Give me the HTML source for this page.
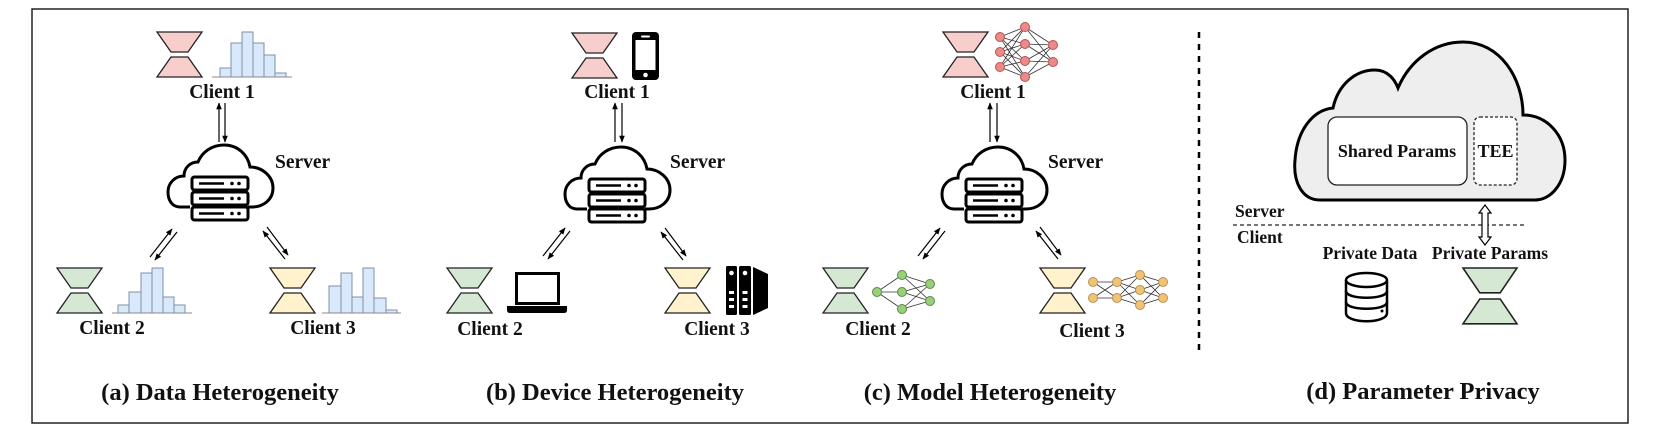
<!DOCTYPE html>
<html><head><meta charset="utf-8"><style>
html,body{margin:0;padding:0;background:#fff;}
svg{display:block;}
text{font-family:"Liberation Serif",serif;font-weight:bold;fill:#111;}
</style></head><body>
<svg width="1661" height="433" viewBox="0 0 1661 433" xmlns="http://www.w3.org/2000/svg">
<defs>
<marker id="ah" viewBox="0 0 10 10" refX="9" refY="5" markerWidth="7" markerHeight="7" orient="auto-start-reverse" markerUnits="userSpaceOnUse">
<path d="M0,1 L10,5 L0,9 z" fill="#000"/></marker>
<g id="hg"><path d="M0,0 H45 L31,20 H14 Z M14,25 H31 L45,45 H0 Z" stroke="#222" stroke-width="1.3"/></g>
<g id="srv">
<path d="M22,62 H12 C4,62 0,55 0,47 C0,38 7,31 16,31 C16,23 22,17 30,17 C34,7 44,0 56,0 C70,0 80,10 82,22 C94,22 105,31 105,43 C105,55 95,62 84,62 H80" fill="#fff" stroke="#000" stroke-width="3"/>
<g fill="#fff" stroke="#000" stroke-width="3">
<rect x="24" y="32" width="56" height="13" rx="2.5"/>
<rect x="24" y="47" width="56" height="13" rx="2.5"/>
<rect x="24" y="62" width="56" height="13" rx="2.5"/></g>
<g stroke="#000" stroke-width="2.5"><line x1="31" y1="38.5" x2="56" y2="38.5"/><line x1="31" y1="53.5" x2="56" y2="53.5"/><line x1="31" y1="68.5" x2="56" y2="68.5"/></g>
<g fill="#000"><circle cx="64" cy="38.5" r="1.8"/><circle cx="71" cy="38.5" r="1.8"/><circle cx="64" cy="53.5" r="1.8"/><circle cx="71" cy="53.5" r="1.8"/><circle cx="64" cy="68.5" r="1.8"/><circle cx="71" cy="68.5" r="1.8"/></g>
</g>
</defs>

<rect x="32" y="9" width="1596" height="414" fill="none" stroke="#222" stroke-width="1.5"/>

<!-- Panel a -->
<use href="#hg" x="157" y="32" fill="#f8cecc"/>
<g fill="#dae8fc" stroke="#7f8fa6" stroke-width="1">
<rect x="220" y="68" width="11" height="9"/><rect x="231" y="43" width="11" height="34"/><rect x="242" y="32" width="11" height="45"/><rect x="253" y="43" width="11" height="34"/><rect x="264" y="55" width="11" height="22"/><rect x="275" y="73" width="11" height="4"/>
<rect x="118" y="305" width="11" height="8"/><rect x="129" y="292" width="12" height="21"/><rect x="141" y="273" width="11" height="40"/><rect x="152" y="268" width="11" height="45"/><rect x="163" y="297" width="11" height="16"/><rect x="174" y="305" width="11" height="8"/>
<rect x="329" y="286" width="12" height="27"/><rect x="341" y="273" width="11" height="40"/><rect x="352" y="297" width="11" height="16"/><rect x="363" y="268" width="11" height="45"/><rect x="374" y="298" width="12" height="15"/><rect x="386" y="310" width="11" height="3"/>
</g>
<g stroke="#888" stroke-width="1"><line x1="212" y1="77" x2="292" y2="77"/><line x1="112" y1="313" x2="192" y2="313"/><line x1="322" y1="313" x2="401" y2="313"/></g>
<text x="222" y="98" font-size="19.5" text-anchor="middle">Client 1</text>
<use href="#srv" x="168" y="145"/>
<text x="275" y="168" font-size="19.5">Server</text>
<use href="#hg" x="57" y="268" fill="#d5e8d4"/>
<use href="#hg" x="270" y="268" fill="#fff2cc"/>
<text x="112" y="334" font-size="19.5" text-anchor="middle">Client 2</text>
<text x="323" y="334" font-size="19.5" text-anchor="middle">Client 3</text>
<g stroke="#000" stroke-width="1.2" marker-end="url(#ah)">
<line x1="219" y1="142" x2="219" y2="103"/><line x1="225" y1="103" x2="225" y2="142"/>
<line x1="150" y1="257" x2="172" y2="229"/><line x1="177" y1="232" x2="155" y2="260"/>
<line x1="267" y1="227" x2="288" y2="255"/><line x1="285" y1="259" x2="263" y2="231"/>
</g>
<text x="220" y="400" font-size="24.5" text-anchor="middle">(a) Data Heterogeneity</text>

<!-- Panel b -->
<use href="#hg" x="572" y="33" fill="#f8cecc"/>
<rect x="632" y="32" width="27" height="48" rx="4" fill="#000"/>
<rect x="635.5" y="40" width="20" height="30" fill="#fff"/>
<circle cx="645.5" cy="75" r="2.3" fill="#fff"/>
<rect x="641" y="35.5" width="9" height="2" rx="1" fill="#fff"/>
<text x="617" y="98" font-size="19.5" text-anchor="middle">Client 1</text>
<g stroke="#000" stroke-width="1.2" marker-end="url(#ah)">
<line x1="615" y1="142" x2="615" y2="103"/><line x1="622" y1="103" x2="622" y2="142"/>
<line x1="543" y1="256" x2="565" y2="228"/><line x1="570" y1="231" x2="548" y2="259"/>
<line x1="665" y1="228" x2="686" y2="256"/><line x1="683" y1="260" x2="661" y2="232"/>
</g>
<use href="#srv" x="565" y="147"/>
<text x="670" y="168" font-size="19.5">Server</text>
<use href="#hg" x="447" y="268" fill="#d5e8d4"/>
<rect x="516.5" y="273.5" width="42" height="30" fill="#fff" stroke="#000" stroke-width="3"/>
<path d="M507,306 H567 V310 Q567,313 564,313 H510 Q507,313 507,310 Z" fill="#000"/>
<use href="#hg" x="665" y="268" fill="#fff2cc"/>
<rect x="726" y="266" width="11" height="49" rx="1.5" fill="#000"/>
<rect x="739" y="266" width="12" height="49" rx="1.5" fill="#000"/>
<path d="M753,267 L768,274 V308 L753,315 Z" fill="#000"/>
<g fill="#fff"><circle cx="731.5" cy="273" r="2.3"/><circle cx="745" cy="273" r="2.3"/>
<rect x="729" y="291" width="5" height="3"/><rect x="729" y="298" width="5" height="3"/><rect x="729" y="305" width="5" height="3"/>
<rect x="742.5" y="291" width="5" height="3"/><rect x="742.5" y="298" width="5" height="3"/><rect x="742.5" y="305" width="5" height="3"/></g>
<text x="490" y="335" font-size="19.5" text-anchor="middle">Client 2</text>
<text x="717" y="335" font-size="19.5" text-anchor="middle">Client 3</text>
<text x="615" y="400" font-size="24.5" text-anchor="middle">(b) Device Heterogeneity</text>

<!-- Panel c -->
<use href="#hg" x="943" y="32" fill="#f8cecc"/>
<g stroke="#333" stroke-width="0.8">
<path d="M1000,37 L1025,27 M1000,37 L1025,44 M1000,37 L1025,61 M1000,37 L1025,77 M1000,52 L1025,27 M1000,52 L1025,44 M1000,52 L1025,61 M1000,52 L1025,77 M1000,67 L1025,27 M1000,67 L1025,44 M1000,67 L1025,61 M1000,67 L1025,77 M1025,27 L1053,45 M1025,27 L1053,62 M1025,44 L1053,45 M1025,44 L1053,62 M1025,61 L1053,45 M1025,61 L1053,62 M1025,77 L1053,45 M1025,77 L1053,62"/>
</g>
<g fill="#ea8a8a" stroke="#b85450" stroke-width="1">
<circle cx="1000" cy="37" r="4.5"/><circle cx="1000" cy="52" r="4.5"/><circle cx="1000" cy="67" r="4.5"/>
<circle cx="1025" cy="27" r="4.5"/><circle cx="1025" cy="44" r="4.5"/><circle cx="1025" cy="61" r="4.5"/><circle cx="1025" cy="77" r="4.5"/>
<circle cx="1053" cy="45" r="4.5"/><circle cx="1053" cy="62" r="4.5"/></g>
<text x="993" y="98" font-size="19.5" text-anchor="middle">Client 1</text>
<g stroke="#000" stroke-width="1.2" marker-end="url(#ah)">
<line x1="990" y1="142" x2="990" y2="103"/><line x1="997" y1="103" x2="997" y2="142"/>
<line x1="918" y1="256" x2="940" y2="228"/><line x1="945" y1="231" x2="923" y2="259"/>
<line x1="1040" y1="227" x2="1061" y2="255"/><line x1="1058" y1="259" x2="1036" y2="231"/>
</g>
<use href="#srv" x="942" y="147"/>
<text x="1048" y="168" font-size="19.5">Server</text>
<use href="#hg" x="823" y="268" fill="#d5e8d4"/>
<g stroke="#333" stroke-width="0.8">
<path d="M877,292 L902,275 M877,292 L902,292 M877,292 L902,309 M902,275 L930,284 M902,275 L930,301 M902,292 L930,284 M902,292 L930,301 M902,309 L930,284 M902,309 L930,301"/></g>
<g fill="#97d077" stroke="#5a8a4a" stroke-width="1">
<circle cx="877" cy="292" r="4.5"/><circle cx="902" cy="275" r="4.5"/><circle cx="902" cy="292" r="4.5"/><circle cx="902" cy="309" r="4.5"/><circle cx="930" cy="284" r="4.5"/><circle cx="930" cy="301" r="4.5"/></g>
<use href="#hg" x="1040" y="268" fill="#fff2cc"/>
<g stroke="#333" stroke-width="0.8">
<path d="M1093,282 L1117,282 M1093,282 L1117,298 M1093,298 L1117,282 M1093,298 L1117,298 M1117,282 L1140,275 M1117,282 L1140,290 M1117,282 L1140,305 M1117,298 L1140,275 M1117,298 L1140,290 M1117,298 L1140,305 M1140,275 L1163,282 M1140,275 L1163,298 M1140,290 L1163,282 M1140,290 L1163,298 M1140,305 L1163,282 M1140,305 L1163,298"/></g>
<g fill="#f0c27a" stroke="#b7924a" stroke-width="1">
<circle cx="1093" cy="282" r="4.5"/><circle cx="1093" cy="298" r="4.5"/><circle cx="1117" cy="282" r="4.5"/><circle cx="1117" cy="298" r="4.5"/>
<circle cx="1140" cy="275" r="4.5"/><circle cx="1140" cy="290" r="4.5"/><circle cx="1140" cy="305" r="4.5"/>
<circle cx="1163" cy="282" r="4.5"/><circle cx="1163" cy="298" r="4.5"/></g>
<text x="878" y="335" font-size="19.5" text-anchor="middle">Client 2</text>
<text x="1092" y="337" font-size="19.5" text-anchor="middle">Client 3</text>
<text x="990" y="400" font-size="24.5" text-anchor="middle">(c) Model Heterogeneity</text>

<!-- divider -->
<line x1="1199" y1="32" x2="1199" y2="355" stroke="#000" stroke-width="2.5" stroke-dasharray="6,6"/>

<!-- Panel d -->
<path d="M1320,200 C1302,200 1293,182 1295,160 C1297,130 1313,110 1333,108 C1338,85 1355,70 1375,70 C1388,70 1395,80 1398,88 C1410,60 1435,42 1463,42 C1500,42 1523,78 1523,115 C1547,115 1565,135 1565,160 C1565,185 1550,200 1535,200 Z" fill="#eeeeee" stroke="#000" stroke-width="3"/>
<rect x="1328" y="117" width="139" height="68" rx="9" fill="#fff" stroke="#222" stroke-width="1.3"/>
<rect x="1474" y="117" width="43" height="68" rx="6" fill="#fff" stroke="#222" stroke-width="1.3" stroke-dasharray="3,2"/>
<text x="1397" y="157" font-size="18" text-anchor="middle">Shared Params</text>
<text x="1495.5" y="157" font-size="18" text-anchor="middle">TEE</text>
<text x="1235" y="217" font-size="17.5">Server</text>
<line x1="1233" y1="225" x2="1527" y2="225" stroke="#222" stroke-width="1.2" stroke-dasharray="4,3"/>
<text x="1237" y="243" font-size="17.5">Client</text>
<path d="M1485,205 L1491,213 H1488 V237 H1491 L1485,245 L1479,237 H1482 V213 H1479 Z" fill="#fff" stroke="#000" stroke-width="1.2"/>
<text x="1370" y="259" font-size="17.5" text-anchor="middle">Private Data</text>
<text x="1490" y="259" font-size="17.5" text-anchor="middle">Private Params</text>
<g fill="#fff" stroke="#000" stroke-width="2.5">
<path d="M1346,280 V313 C1346,324 1387,324 1387,313 V280"/>
<ellipse cx="1366.5" cy="280" rx="20.5" ry="7"/>
<path d="M1346,291 C1346,300 1387,300 1387,291 M1346,302 C1346,311 1387,311 1387,302" fill="none"/>
</g>
<circle cx="1382" cy="311" r="1.5" fill="#000"/>
<g transform="translate(1463,268) scale(1.2,1.24)"><use href="#hg" fill="#d5e8d4"/></g>
<text x="1423" y="399" font-size="24.5" text-anchor="middle">(d) Parameter Privacy</text>
</svg>
</body></html>
